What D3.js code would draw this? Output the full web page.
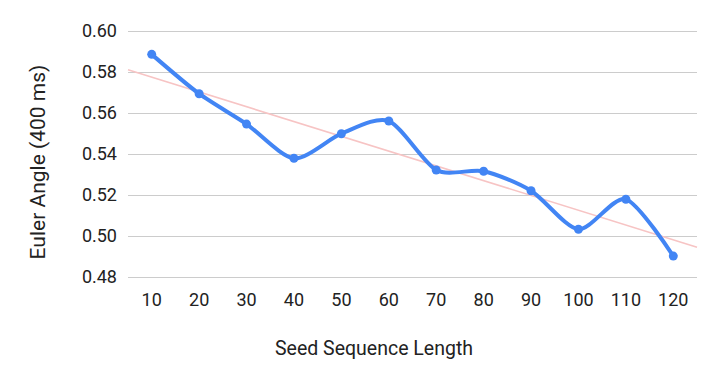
<!DOCTYPE html>
<html><head><meta charset="utf-8">
<script src="https://cdn.jsdelivr.net/npm/d3@7"></script>
<style>body{margin:0;background:#fff}svg{display:block;font-family:Roboto,sans-serif}</style>
</head><body><svg id="c" width="716" height="378"></svg>
<script>
const categories = ["10","20","30","40","50","60","70","80","90","100","110","120"];
const values = [0.5886,0.5694,0.5546,0.5379,0.5499,0.5561,0.5322,0.5316,0.5221,0.5033,0.5179,0.4902];
const yTicks = [0.48,0.50,0.52,0.54,0.56,0.58,0.60];
const xTitle = "Seed Sequence Length";
const yTitle = "Euler Angle (400 ms)";

const svg = d3.select("#c");
const L = 128, R = 697, T = 31, B = 277;
const x = d3.scaleBand().domain(categories).range([L, R]);
const y = d3.scaleLinear().domain([0.48, 0.60]).range([B, T]);

// gridlines + y labels
const ya = svg.append("g").attr("transform", `translate(${L},0)`)
  .call(d3.axisLeft(y).tickValues(yTicks).tickFormat(d3.format(".2f")).tickSize(-(R - L)).tickPadding(11));
ya.select(".domain").remove();
ya.selectAll("line").attr("stroke", "#ccc").attr("stroke-width", 1);
ya.selectAll("text").attr("font-size", 18).attr("fill", "#222").attr("font-family", "Roboto");

// x labels
const xa = svg.append("g").attr("transform", `translate(0,${B})`)
  .call(d3.axisBottom(x).tickSize(0).tickPadding(16));
xa.select(".domain").remove();
xa.selectAll("text").attr("font-size", 18).attr("fill", "#222").attr("font-family", "Roboto");

// trendline (least squares over category index)
const n = values.length;
const xs = values.map((_, i) => i);
const mx = d3.mean(xs), my = d3.mean(values);
const slope = d3.sum(xs, (xi, i) => (xi - mx) * (values[i] - my)) / d3.sum(xs, xi => (xi - mx) ** 2);
const icpt = my - slope * mx;
svg.append("line")
  .attr("x1", L).attr("x2", R)
  .attr("y1", y(icpt + slope * -0.5)).attr("y2", y(icpt + slope * (n - 0.5)))
  .attr("stroke", "#f7c4c4").attr("stroke-width", 1.6);

// series line
const pts = values.map((v, i) => [x(categories[i]) + x.bandwidth() / 2, y(v)]);
svg.append("path").attr("d", d3.line().curve(d3.curveCardinal.tension(0.2))(pts))
  .attr("fill", "none").attr("stroke", "#4285f4").attr("stroke-width", 4)
  .attr("stroke-linejoin", "round").attr("stroke-linecap", "round");
svg.selectAll("circle.p").data(pts).join("circle").attr("class", "p")
  .attr("cx", d => d[0]).attr("cy", d => d[1]).attr("r", 4.5).attr("fill", "#4285f4");

// titles
svg.append("text").attr("x", 374).attr("y", 355).attr("text-anchor", "middle")
  .attr("font-size", 19.5).attr("fill", "#222").text(xTitle);
svg.append("text").attr("transform", "translate(45,162) rotate(-90)").attr("text-anchor", "middle")
  .attr("font-size", 21).attr("fill", "#222").text(yTitle);
</script></body></html>
